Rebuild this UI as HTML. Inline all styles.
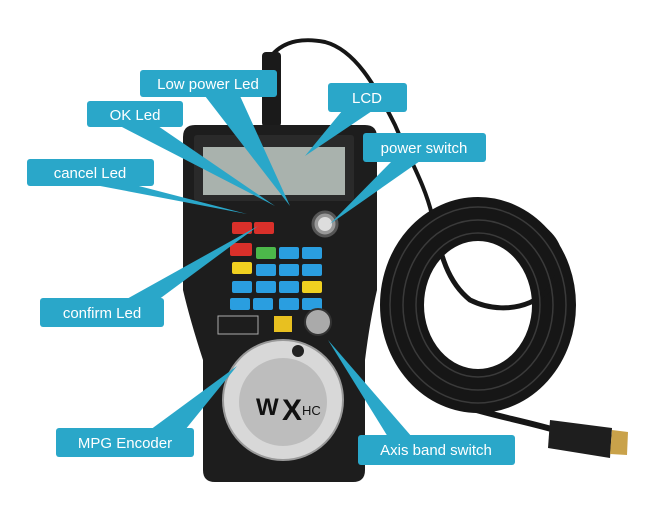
<!DOCTYPE html>
<html><head><meta charset="utf-8"><style>
body{margin:0;background:#fff;}
svg{display:block}
text{font-family:"Liberation Sans","Noto Sans CJK SC",sans-serif;}
</style></head><body>
<svg width="650" height="510" viewBox="0 0 650 510" xmlns="http://www.w3.org/2000/svg">
<rect width="650" height="510" fill="#fff"/>
<!-- cable -->
<g fill="none" stroke="#161616" stroke-linecap="round">
<path d="M272 55 C285 40 305 38 325 42 C355 50 375 85 395 125 C410 160 425 185 432 215" stroke-width="4"/>
<ellipse cx="478" cy="305" rx="76" ry="86" stroke-width="44"/>
<path d="M432 215 C440 250 445 280 470 300 C510 320 560 300 560 260 C560 220 500 205 450 215" stroke-width="5"/>
<path d="M460 405 C490 415 520 420 555 430" stroke-width="6"/>
</g>
<g fill="none" stroke="#3a3a3a" stroke-width="1.5">
<ellipse cx="478" cy="305" rx="62" ry="72"/>
<ellipse cx="478" cy="305" rx="88" ry="98"/>
<ellipse cx="478" cy="305" rx="75" ry="85"/>
</g>
<polygon points="550,420 612,428 610,458 548,448" fill="#1e1e1e"/>
<polygon points="612,430 628,432 627,455 610,454" fill="#c9a24a"/>
<!-- connector -->
<rect x="262" y="52" width="19" height="75" rx="4" fill="#1a1a1a"/>
<!-- device -->
<path d="M195 125 H365 Q377 125 377 137 V290 Q370 320 365 360 V470 Q365 482 353 482 H215 Q203 482 203 470 V360 Q190 320 183 290 V137 Q183 125 195 125Z" fill="#1d1d1d"/>
<rect x="194" y="135" width="160" height="66" rx="3" fill="#2a2a2a"/>
<rect x="203" y="147" width="142" height="48" fill="#a9b2ad"/>
<g>
<rect x="232" y="222" width="20" height="12" rx="2" fill="#d9302a"/>
<rect x="254" y="222" width="20" height="12" rx="2" fill="#d9302a"/>
<rect x="230" y="243" width="22" height="13" rx="2" fill="#d9302a"/>
<rect x="256" y="247" width="20" height="12" rx="2" fill="#4cb84a"/>
<rect x="279" y="247" width="20" height="12" rx="2" fill="#2a9ee0"/>
<rect x="302" y="247" width="20" height="12" rx="2" fill="#2a9ee0"/>
<rect x="232" y="262" width="20" height="12" rx="2" fill="#f0d020"/>
<rect x="256" y="264" width="20" height="12" rx="2" fill="#2a9ee0"/>
<rect x="279" y="264" width="20" height="12" rx="2" fill="#2a9ee0"/>
<rect x="302" y="264" width="20" height="12" rx="2" fill="#2a9ee0"/>
<rect x="232" y="281" width="20" height="12" rx="2" fill="#2a9ee0"/>
<rect x="256" y="281" width="20" height="12" rx="2" fill="#2a9ee0"/>
<rect x="279" y="281" width="20" height="12" rx="2" fill="#2a9ee0"/>
<rect x="302" y="281" width="20" height="12" rx="2" fill="#f0d020"/>
<rect x="230" y="298" width="20" height="12" rx="2" fill="#2a9ee0"/>
<rect x="253" y="298" width="20" height="12" rx="2" fill="#2a9ee0"/>
<rect x="279" y="298" width="20" height="12" rx="2" fill="#2a9ee0"/>
<rect x="302" y="298" width="20" height="12" rx="2" fill="#2a9ee0"/>
<rect x="218" y="316" width="40" height="18" fill="none" stroke="#aaa"/>
<rect x="274" y="316" width="18" height="16" fill="#e8c020"/>
</g>
<circle cx="325" cy="224" r="12" fill="#999" stroke="#555" stroke-width="3"/>
<circle cx="325" cy="224" r="7" fill="#ddd"/>
<circle cx="318" cy="322" r="13" fill="#aaa" stroke="#333" stroke-width="2"/>
<circle cx="283" cy="400" r="60" fill="#d8d8d8" stroke="#999" stroke-width="2"/>
<circle cx="283" cy="402" r="44" fill="#bdbdbd"/>
<circle cx="298" cy="351" r="6" fill="#222"/>
<text x="256" y="415" font-size="24" font-weight="bold" fill="#111">W</text>
<text x="282" y="420" font-size="30" font-weight="bold" fill="#111">X</text>
<text x="302" y="415" font-size="13" fill="#111">HC</text>
<!-- labels -->
<g fill="#2aa7c9">
<polygon points="205,96 240,96 290,206"/>
<polygon points="120,126 158,126 275,206"/>
<polygon points="95,185 135,185 247,214"/>
<polygon points="342,111 372,111 305,156"/>
<polygon points="392,161 420,161 330,224"/>
<polygon points="125,300 158,300 258,226"/>
<polygon points="150,430 185,430 237,366"/>
<polygon points="388,437 412,437 328,340"/>
<rect x="140" y="70" width="137" height="27" rx="3"/>
<rect x="328" y="83" width="79" height="29" rx="3"/>
<rect x="87" y="101" width="96" height="26" rx="3"/>
<rect x="363" y="133" width="123" height="29" rx="3"/>
<rect x="27" y="159" width="127" height="27" rx="3"/>
<rect x="40" y="298" width="124" height="29" rx="3"/>
<rect x="56" y="428" width="138" height="29" rx="3"/>
<rect x="358" y="435" width="157" height="30" rx="3"/>
</g>
<g fill="#fff" font-size="15" text-anchor="middle">
<text x="208" y="89">Low power Led</text>
<text x="367" y="103">LCD</text>
<text x="135" y="120">OK Led</text>
<text x="424" y="153">power switch</text>
<text x="90" y="178">cancel Led</text>
<text x="102" y="318">confirm Led</text>
<text x="125" y="448">MPG Encoder</text>
<text x="436" y="455">Axis band switch</text>
</g>
</svg>
</body></html>
